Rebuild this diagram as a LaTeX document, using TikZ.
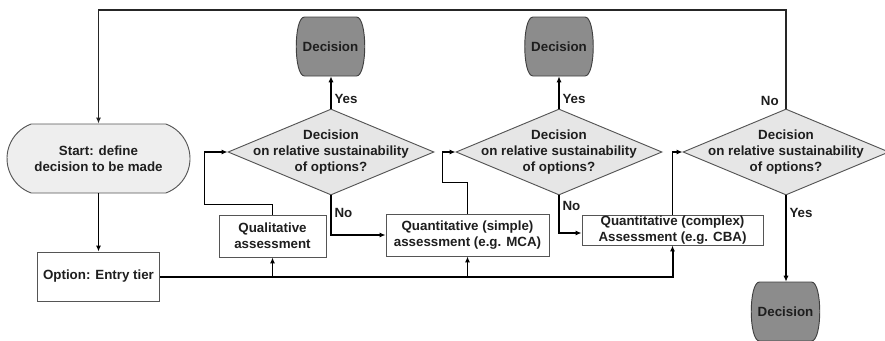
\documentclass[tikz,border=0pt]{standalone}
\usepackage{fontspec}
\setmainfont{Liberation Sans}
\usetikzlibrary{shapes.geometric,shapes.misc,arrows.meta,calc}

\definecolor{startfill}{HTML}{EEEEEE}
\definecolor{diamfill}{HTML}{E6E6E6}
\definecolor{decfill}{HTML}{8C8C8C}
\definecolor{edgegray}{HTML}{555555}
\definecolor{inkdark}{HTML}{1E1E1E}

% Barrel-shaped terminal: flat top/bottom, bulging sides
\newcommand{\barrelbox}[3]{%
  \path[barrel] ({#2-26},{#3-29.5}) -- ({#2+26},{#3-29.5})
    .. controls ({#2+37},{#3-29.5}) and ({#2+37},{#3+29.5}) .. ({#2+26},{#3+29.5})
    -- ({#2-26},{#3+29.5})
    .. controls ({#2-37},{#3+29.5}) and ({#2-37},{#3-29.5}) .. cycle;
  \node[dectext] (#1) at (#2,#3) {Decision};}

\begin{document}
\begin{tikzpicture}[x=0.75pt,y=-0.75pt,
  font=\fontsize{10pt}{12pt}\selectfont\bfseries,
  every node/.style={text=inkdark},
  startbox/.style={rounded rectangle, rounded rectangle arc length=140,
    draw=edgegray, line width=0.7pt, fill=startfill, align=center,
    minimum width=137.25pt, minimum height=51.75pt, inner sep=0pt},
  stepbox/.style={rectangle, draw=edgegray, line width=0.7pt, fill=white,
    align=center, inner sep=0pt},
  diam/.style={diamond, draw=edgegray, line width=0.7pt, fill=diamfill,
    minimum width=154.5pt, minimum height=64.5pt, inner sep=0pt},
  dtext/.style={align=center, inner sep=0pt},
  barrel/.style={draw=black!75, line width=0.7pt, fill=decfill},
  dectext/.style={minimum width=50.25pt, minimum height=44.25pt, inner sep=0pt},
  conn/.style={draw=black, line width=1.3pt, -{Latex[length=4.5pt,width=3.8pt]}},
  bus/.style={conn, line width=1.5pt},
  loop/.style={draw=black!85, line width=0.9pt, -{Latex[length=4.5pt,width=3.8pt]}},
  lbl/.style={inner sep=2pt}
]
\useasboundingbox (0,0) rectangle (885,340);

% Start terminal and entry tier
\node[startbox] (start) at (98.5,158.5) {Start: define\\decision to be made};
\node[stepbox, minimum width=91.5pt, minimum height=36.75pt] (opt) at (98.5,276.5) {Option: Entry tier};

% Assessment tiers
\node[stepbox, minimum width=80.25pt, minimum height=31.5pt] (qual) at (272.5,236) {Qualitative\\assessment};
\node[stepbox, minimum width=122.25pt, minimum height=31.5pt] (mca) at (467.5,235) {Quantitative (simple)\\assessment (e.g. MCA)};
\node[stepbox, minimum width=135.75pt, minimum height=22.5pt] (cba) at (672.5,230) {Quantitative (complex)\\Assessment (e.g. CBA)};

% Decision diamonds
\node[diam, label={[dtext]center:{Decision\\on relative sustainability\\of options?}}] (d1) at (331,152) {};
\node[diam, label={[dtext]center:{Decision\\on relative sustainability\\of options?}}] (d2) at (559,152) {};
\node[diam, label={[dtext]center:{Decision\\on relative sustainability\\of options?}}] (d3) at (786,152) {};

% Decision terminals
\barrelbox{dec1}{330.5}{46.5}
\barrelbox{dec2}{559}{46.5}
\barrelbox{dec3}{785.5}{311.5}

% Start to entry tier
\draw[conn] (start.south) -- (opt.north);

% Entry tier bus feeding each assessment
\draw[bus] (opt.east) -| (cba.south);
\draw[conn] (qual.south |- opt.east) -- (qual.south);
\draw[conn] (mca.south |- opt.east) -- (mca.south);

% Assessments into decision diamonds
\draw[conn] (qual.north) -- ++(0,-10) -| ($(d1.west)+(-23,0)$) -- (d1.west);
\draw[conn] (mca.north) -- ++(0,-31) -| ($(d2.west)+(-13,0)$) -- (d2.west);
\draw[conn] (cba.north) |- (d3.west);

% Yes branches
\draw[conn] (d1.north) -- node[lbl, anchor=west, pos=0.3] {Yes} (dec1.south -| d1.north);
\draw[conn] (d2.north) -- node[lbl, anchor=west, pos=0.3] {Yes} (dec2.south -| d2.north);
\draw[conn] (d3.south) -- node[lbl, anchor=west, pos=0.2] {Yes} (dec3.north -| d3.south);

% No branches
\draw[conn] (d1.south) |- node[lbl, anchor=west, pos=0.22] {No} (mca.west);
\draw[conn] (d2.south) |- node[lbl, anchor=west, pos=0.14] {No} ($(cba.west)+(0,3)$);

% Return loop to the start
\coordinate (ret) at (0,10);
\draw[loop] (d3.north) |- node[lbl, anchor=east, pos=0.04, xshift=-3pt] {No} (ret -| start.north) -- (start.north);
\end{tikzpicture}
\end{document}
